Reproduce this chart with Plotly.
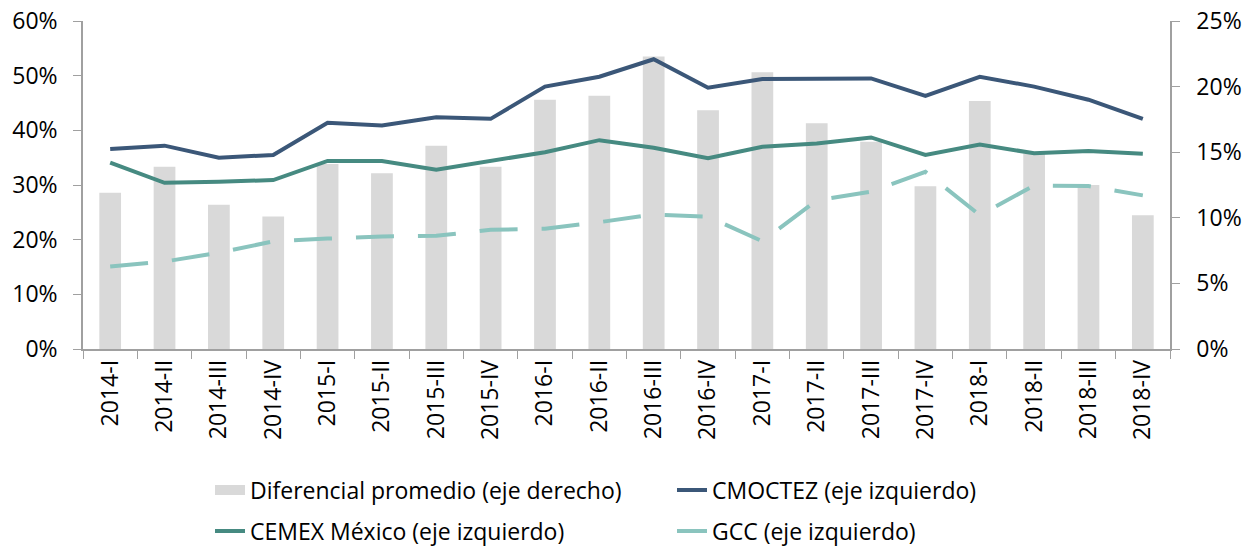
import plotly.graph_objects as go

categories = ["2014-I", "2014-II", "2014-III", "2014-IV",
              "2015-I", "2015-II", "2015-III", "2015-IV",
              "2016-I", "2016-II", "2016-III", "2016-IV",
              "2017-I", "2017-II", "2017-III", "2017-IV",
              "2018-I", "2018-II", "2018-III", "2018-IV"]

diferencial = [11.9, 13.9, 11.0, 10.1, 14.1, 13.4, 15.5, 13.9,
               19.0, 19.3, 22.3, 18.2, 21.1, 17.2, 15.8, 12.4,
               18.9, 14.9, 12.5, 10.2]
cmoctez = [36.6, 37.2, 35.0, 35.5, 41.4, 40.9, 42.4, 42.1,
           48.0, 49.8, 53.0, 47.8, 49.4, 49.5, 49.5, 46.3,
           49.8, 48.0, 45.6, 42.1]
cemex = [34.1, 30.4, 30.6, 30.9, 34.4, 34.4, 32.8, 34.4,
         36.0, 38.2, 36.8, 34.9, 37.0, 37.6, 38.7, 35.5,
         37.4, 35.8, 36.2, 35.7]
gcc = [15.1, 16.0, 17.6, 19.7, 20.2, 20.6, 20.7, 21.8,
       22.0, 23.2, 24.6, 24.2, 19.7, 27.2, 28.8, 32.4,
       24.5, 29.9, 29.8, 28.1]

left_ticks = [0, 10, 20, 30, 40, 50, 60]
left_labels = ["0%", "10%", "20%", "30%", "40%", "50%", "60%"]
right_ticks = [0, 5, 10, 15, 20, 25]
right_labels = ["0%", "5%", "10%", "15%", "20%", "25%"]

FONT = "Open Sans"
SIZE = 23
AXIS_COLOR = "#A0A0A0"
BAR_COLOR = "#D9D9D9"

fig = go.Figure()
fig.add_trace(go.Bar(
    x=categories, y=diferencial, name="Diferencial promedio (eje derecho)",
    marker=dict(color=BAR_COLOR, line=dict(width=0)), yaxis="y", showlegend=False))
# legend swatch for the bars (wide grey rectangle, as in the original)
fig.add_trace(go.Scatter(
    x=[None], y=[None], mode="lines", name="Diferencial promedio (eje derecho)",
    line=dict(color=BAR_COLOR, width=14), yaxis="y", legend="legend"))
fig.add_trace(go.Scatter(
    x=categories, y=cmoctez, name="CMOCTEZ (eje izquierdo)", mode="lines",
    line=dict(color="#3B5778", width=4), yaxis="y2", legend="legend"))
fig.add_trace(go.Scatter(
    x=categories, y=cemex, name="CEMEX México (eje izquierdo)", mode="lines",
    line=dict(color="#468A81", width=4), yaxis="y2", legend="legend2"))
fig.add_trace(go.Scatter(
    x=categories, y=gcc, name="GCC (eje izquierdo)", mode="lines",
    line=dict(color="#8AC4BE", width=4, dash="38px,24px"), yaxis="y2", legend="legend2"))

fig.update_layout(
    width=1251, height=546,
    margin=dict(l=83, r=81, t=21, b=197, autoexpand=False),
    paper_bgcolor="white", plot_bgcolor="white",
    font=dict(family=FONT, size=SIZE, color="#000000"),
    bargap=0.6,
    xaxis=dict(
        type="category", tickangle=-90, showline=True, linecolor=AXIS_COLOR, linewidth=1.5,
        ticks="outside", tickson="boundaries", ticklen=8, tickcolor=AXIS_COLOR,
        tickfont=dict(family=FONT, size=SIZE), showgrid=False, zeroline=False,
        automargin=False, ticklabeloverflow="allow"),
    yaxis=dict(
        side="right", range=[0, 25], tickmode="array", tickvals=right_ticks,
        ticktext=right_labels,
        showline=True, linecolor=AXIS_COLOR, linewidth=1.5, ticks="outside",
        ticklen=8, tickcolor=AXIS_COLOR, showgrid=False, zeroline=False,
        tickfont=dict(family=FONT, size=SIZE), automargin=False,
        ticklabeloverflow="allow", ticklabelstandoff=12),
    yaxis2=dict(
        side="left", overlaying="y", range=[0, 60], tickmode="array", tickvals=left_ticks,
        ticktext=left_labels,
        showline=True, linecolor=AXIS_COLOR, linewidth=1.5, ticks="outside",
        ticklen=8, tickcolor=AXIS_COLOR, showgrid=False, zeroline=False,
        tickfont=dict(family=FONT, size=SIZE), automargin=False,
        ticklabeloverflow="allow", ticklabelstandoff=11),
    legend=dict(
        orientation="h", xref="container", yref="container",
        x=210 / 1251, xanchor="left", y=1 - 490 / 546, yanchor="middle",
        entrywidth=417, entrywidthmode="pixels",
        font=dict(family=FONT, size=SIZE), bgcolor="rgba(0,0,0,0)"),
    legend2=dict(
        orientation="h", xref="container", yref="container",
        x=210 / 1251, xanchor="left", y=1 - 531 / 546, yanchor="middle",
        entrywidth=417, entrywidthmode="pixels",
        font=dict(family=FONT, size=SIZE), bgcolor="rgba(0,0,0,0)"),
    showlegend=True,
)

fig.write_html("out.html", config={"displayModeBar": False},
               post_script="document.body.style.margin='0';")
